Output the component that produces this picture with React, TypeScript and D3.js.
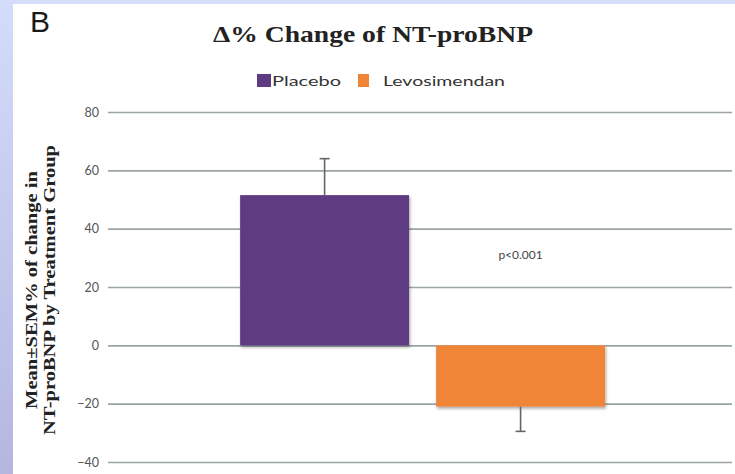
import React, { useEffect, useRef } from 'react';
import * as d3 from 'd3';

// Chart data
const groups = ['Placebo', 'Levosimendan'];
const means = [51.5, -21];
const sems = [12.5, 8.5];
const colors = ['#5e3b82', '#f08538'];
const yTicks = [80, 60, 40, 20, 0, -20, -40];
const pLabel = 'p<0.001';
const pValueY = 31;

const W = 735;
const H = 474;

const App: React.FC = () => {
  const svgRef = useRef<SVGSVGElement>(null);

  useEffect(() => {
    document.body.style.margin = '0';
    if (!svgRef.current) return;
    const svg = d3.select(svgRef.current);
    svg.selectAll('*').remove();

    const margin = { top: 112, right: 3, bottom: 12, left: 108 };

    const defs = svg.append('defs');
    const grad = defs.append('linearGradient')
      .attr('id', 'leftStrip')
      .attr('x1', 0).attr('y1', 0).attr('x2', 0).attr('y2', 1);
    grad.append('stop').attr('offset', '0%').attr('stop-color', '#d3dcfa');
    grad.append('stop').attr('offset', '100%').attr('stop-color', '#b5b6e0');

    const shadow = defs.append('filter')
      .attr('id', 'barShadow')
      .attr('x', '-10%').attr('y', '-10%').attr('width', '120%').attr('height', '130%');
    shadow.append('feDropShadow')
      .attr('dx', 1).attr('dy', 2).attr('stdDeviation', 1.5)
      .attr('flood-color', '#000').attr('flood-opacity', 0.35);

    // slide background
    svg.append('rect').attr('width', W).attr('height', H).attr('fill', '#ffffff');
    svg.append('rect').attr('width', W).attr('height', 4).attr('fill', '#d4ddfa');
    svg.append('rect').attr('width', 13).attr('height', H).attr('fill', 'url(#leftStrip)');

    // panel letter
    svg.append('text')
      .attr('x', 30).attr('y', 32)
      .attr('font-family', '"Liberation Sans", Arial, sans-serif')
      .attr('font-size', 30)
      .attr('fill', '#1a1a1a')
      .text('B');

    // title
    svg.append('text')
      .attr('x', 373).attr('y', 42)
      .attr('text-anchor', 'middle')
      .attr('font-family', '"Liberation Serif", "Times New Roman", serif')
      .attr('font-weight', 'bold')
      .attr('font-size', 24)
      .attr('fill', '#222')
      .attr('textLength', 320)
      .attr('lengthAdjust', 'spacingAndGlyphs')
      .text('Δ% Change of NT-proBNP');

    // legend
    const legend = [
      { x: 257, w: 14, tx: 272, tw: 69 },
      { x: 358, w: 11, tx: 383, tw: 122 },
    ];
    legend.forEach((l, i) => {
      svg.append('rect')
        .attr('x', l.x).attr('y', 74).attr('width', l.w).attr('height', 13)
        .attr('fill', colors[i]);
      svg.append('text')
        .attr('x', l.tx).attr('y', 86)
        .attr('font-family', 'Lato, "Open Sans", sans-serif')
        .attr('font-size', 14)
        .attr('fill', '#333')
        .attr('textLength', l.tw)
        .attr('lengthAdjust', 'spacingAndGlyphs')
        .text(groups[i]);
    });

    const innerW = W - margin.left - margin.right;
    const innerH = H - margin.top - margin.bottom;
    const g = svg.append('g').attr('transform', `translate(${margin.left},${margin.top})`);

    const y = d3.scaleLinear().domain([-40, 80]).range([innerH, 0]);
    const x0 = d3.scaleBand().domain(['all']).range([0, innerW])
      .paddingOuter(0.355).paddingInner(0).align(0.51);
    const x1 = d3.scaleBand().domain(groups).range([0, x0.bandwidth()]).paddingInner(0.138).paddingOuter(0);
    const gx = x0('all') || 0;

    // gridlines + tick labels
    const yAxis = g.append('g')
      .call(d3.axisLeft(y).tickValues(yTicks).tickSize(-innerW).tickPadding(9).tickFormat(d3.format('d')));
    yAxis.select('.domain').remove();
    yAxis.selectAll('.tick line')
      .attr('stroke', '#9aa3a6')
      .attr('stroke-width', 1.6);
    yAxis.selectAll('.tick text')
      .attr('font-family', 'Lato, "Open Sans", sans-serif')
      .attr('font-size', 12.5)
      .attr('fill', '#555');

    // bars
    groups.forEach((name, i) => {
      const v = means[i];
      const bx = gx + (x1(name) || 0);
      const bw = x1.bandwidth();
      g.append('rect')
        .attr('x', bx)
        .attr('y', y(Math.max(0, v)))
        .attr('width', bw)
        .attr('height', Math.abs(y(v) - y(0)))
        .attr('fill', colors[i])
        .attr('filter', 'url(#barShadow)');

      // one-sided error bar
      const cx = bx + bw / 2;
      const end = v >= 0 ? v + sems[i] : v - sems[i];
      g.append('line')
        .attr('x1', cx).attr('x2', cx)
        .attr('y1', y(v)).attr('y2', y(end))
        .attr('stroke', '#666').attr('stroke-width', 1.6);
      g.append('line')
        .attr('x1', cx - 5).attr('x2', cx + 5)
        .attr('y1', y(end)).attr('y2', y(end))
        .attr('stroke', '#666').attr('stroke-width', 1.6);
    });

    // p-value label above the levosimendan bar
    const lx = gx + (x1('Levosimendan') || 0) + x1.bandwidth() / 2;
    g.append('text')
      .attr('x', lx).attr('y', y(pValueY))
      .attr('dy', '0.35em')
      .attr('text-anchor', 'middle')
      .attr('font-family', 'Lato, "Open Sans", sans-serif')
      .attr('font-size', 12)
      .attr('fill', '#444')
      .text(pLabel);

    // y axis title (two rotated lines)
    const yTitle = svg.append('text')
      .attr('transform', 'translate(0,290) rotate(-90)')
      .attr('text-anchor', 'middle')
      .attr('font-family', '"Liberation Serif", "Times New Roman", serif')
      .attr('font-weight', 'bold')
      .attr('font-size', 16)
      .attr('fill', '#222');
    yTitle.append('tspan').attr('x', 0).attr('y', 37)
      .attr('textLength', 238).attr('lengthAdjust', 'spacingAndGlyphs')
      .text('Mean±SEM% of change in');
    yTitle.append('tspan').attr('x', 0).attr('y', 55)
      .attr('textLength', 290).attr('lengthAdjust', 'spacingAndGlyphs')
      .text('NT-proBNP by Treatment Group');
  }, []);

  return <svg ref={svgRef} width={W} height={H} style={{ display: 'block' }} />;
};

export default App;
